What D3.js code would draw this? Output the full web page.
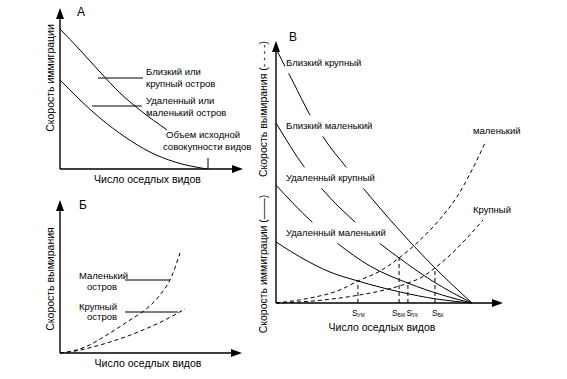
<!DOCTYPE html>
<html><head><meta charset="utf-8">
<script src="https://cdn.jsdelivr.net/npm/d3@7/dist/d3.min.js"></script>
<style>
body{margin:0;background:#fff}
svg text{font-family:"Liberation Sans",Arial,sans-serif;fill:#000}
</style>
</head><body>
<svg id="c" width="567" height="379"></svg>
<script>
// ---------- DATA (species number, rate) ----------
// Panel A: immigration curves
const aNearLarge = [[0,100],[13.6,85],[27.2,69.3],[40.8,54.3],[54.4,42.1],[72.8,27.9]];
const aFarSmall  = [[0,63.6],[13.6,49.3],[27.2,36.4],[44.2,22.9],[61.2,12.1],[78.2,5],[100,0]];
const aLabels = ["Близкий или","крупный остров","Удаленный или","маленький остров","Объем исходной","совокупности видов"];
// Panel B (Б): extinction curves
const bSmall = [[0,0],[10,2],[20,6],[40,20],[56,33],[68,43],[80,58],[88,73],[96,100]];
const bLarge = [[0,0],[10,1.5],[32,8],[66.4,23],[84,33],[100,44]];
const bLabels = ["Маленький","остров","Крупный","остров"];
// Panel C (В): immigration (solid) and extinction (dashed)
const cNearLarge = [[0,97],[8.7,84.4],[17.3,71.8],[24,63.4],[36.2,51.5],[44.4,43.9],[63.3,27.5],[81.1,13.4],[100,0]];
const cNearSmall = [[0,68.7],[14.8,51.5],[24,43.1],[40.3,30.9],[52,23.3],[62.8,17.2],[80,8.3],[100,0]];
const cFarLarge  = [[0,45],[18.4,30.9],[31,23],[48,14.1],[67.3,7.6],[85,3],[100,0]];
const cFarSmall  = [[0,23.3],[12.2,17.6],[27.6,11.8],[41.8,8.4],[63.3,4.2],[82,1.5],[100,0]];
const cExtSmall  = [[0,0],[17.3,1.9],[32.7,5.0],[41.8,8.4],[53.1,12.2],[62.8,17.2],[73.5,24],[83.7,32.1],[92.3,40.5],[100,50.8],[107.1,61.8]];
const cExtLarge  = [[0,0],[22.4,1.0],[42.9,3.1],[55.6,5.0],[67.3,7.6],[74.5,9.9],[81.1,13.4],[88.8,18.3],[97.4,24.8],[105.6,31.7]];
const cEquilNames = ["УМ","БМ","УК","БК"];
const cEquilX = [41.8,62.8,67.3,81.1];
const cEquilY = [8.4,17.2,7.6,13.4];
const cCurveLabels = ["Близкий крупный","Близкий маленький","Удаленный крупный","Удаленный маленький"];
const cExtLabels = ["маленький","Крупный"];

// ---------- DRAWING ----------
const svg = d3.select("#c");
svg.append("rect").attr("width",567).attr("height",379).attr("fill","#fff");

function axes(g, x, y, xMax, yMax){
  const x0=x(0), y0=y(0), xt=x(xMax), yt=y(yMax);
  g.append("line").attr("x1",x0).attr("y1",y0).attr("x2",xt-6).attr("y2",y0).attr("stroke","#000").attr("stroke-width",1.4);
  g.append("line").attr("x1",x0).attr("y1",y0).attr("x2",x0).attr("y2",yt+6).attr("stroke","#000").attr("stroke-width",1.4);
  g.append("path").attr("d",`M${xt},${y0}L${xt-11},${y0-4}L${xt-11},${y0+4}Z`).attr("fill","#000");
  g.append("path").attr("d",`M${x0},${yt}L${x0-4},${yt+11}L${x0+4},${yt+11}Z`).attr("fill","#000");
}
function curve(g, x, y, data, dashed){
  const line = d3.line().x(d=>x(d[0])).y(d=>y(d[1])).curve(d3.curveMonotoneX);
  const p = g.append("path").attr("d", line(data)).attr("fill","none").attr("stroke","#000").attr("stroke-width",1);
  if(dashed) p.attr("stroke-dasharray","4,3");
  return p;
}
function txt(g, x, y, s, size, anchor, rot){
  const t = g.append("text").attr("x",x).attr("y",y).attr("dy","0.35em").attr("font-size",size)
    .attr("text-anchor",anchor||"start").text(s);
  if(rot) t.attr("transform",`rotate(-90,${x},${y})`);
  return t;
}
function seg(g,x1,y1,x2,y2,dash){
  const l=g.append("line").attr("x1",x1).attr("y1",y1).attr("x2",x2).attr("y2",y2).attr("stroke","#000").attr("stroke-width",1);
  if(dash) l.attr("stroke-dasharray","4,3");
  return l;
}

// Panel A
{
  const g = svg.append("g");
  const x = d3.scaleLinear([0,100],[60,207]);
  const y = d3.scaleLinear([0,100],[169,29]);
  axes(g,x,y,124.5,115);
  curve(g,x,y,aNearLarge);
  curve(g,x,y,aFarSmall);
  txt(g,77,12,"А",12);
  txt(g,50,y(65),"Скорость иммиграции",10.5,"middle",true);
  txt(g,(x(0)+x(124.5))/2-4,179,"Число оседлых видов",10.5,"middle");
  seg(g,98,78,143,78);
  seg(g,92,106,142,106);
  txt(g,146,72,aLabels[0],9.5); txt(g,146,84,aLabels[1],9.5);
  txt(g,146,101,aLabels[2],9.5); txt(g,146,113,aLabels[3],9.5);
  txt(g,166,135,aLabels[4],9.5); txt(g,163,147,aLabels[5],9.5);
  seg(g,x(100)+1,y(0),x(100)+1,y(0)-11);
}
// Panel Б
{
  const g = svg.append("g");
  const x = d3.scaleLinear([0,100],[60,185]);
  const y = d3.scaleLinear([0,100],[353,253]);
  axes(g,x,y,145.6,153);
  curve(g,x,y,bSmall,true);
  curve(g,x,y,bLarge,true);
  txt(g,79,205,"Б",12);
  txt(g,50,279,"Скорость вымирания",10.5,"middle",true);
  txt(g,148,363,"Число оседлых видов",10.5,"middle");
  seg(g,125,280,170,280);
  seg(g,125,312,178,312);
  txt(g,79,276,bLabels[0],9.5); txt(g,102,287,bLabels[1],9.5,"middle");
  txt(g,79,307,bLabels[2],9.5); txt(g,102,317,bLabels[3],9.5,"middle");
}
// Panel В
{
  const g = svg.append("g");
  const x = d3.scaleLinear([0,100],[276,472]);
  const y = d3.scaleLinear([0,100],[303,41]);
  curve(g,x,y,cNearLarge);
  curve(g,x,y,cNearSmall);
  curve(g,x,y,cFarLarge);
  curve(g,x,y,cFarSmall);
  curve(g,x,y,cExtSmall,true);
  curve(g,x,y,cExtLarge,true);
  const labOff = [-6,-7,-1.5,-3];
  cEquilX.forEach((v,i)=>{
    seg(g,x(v),y(0),x(v),y(cEquilY[i]),true);
    const t = g.append("text").attr("x",x(v)+labOff[i]).attr("y",316).attr("font-size",8.5);
    t.append("tspan").text("S");
    t.append("tspan").attr("font-size",4.8).attr("dy",1).text(cEquilNames[i]);
  });
  axes(g,x,y,115.8,100);
  // curve labels with white masks
  const labY = [63,126,178,233];
  labY.forEach((ly,i)=>{
    const t = txt(g,286,ly,cCurveLabels[i],9.5);
    const bb = t.node().getBBox();
    g.insert("rect", function(){return t.node();}).attr("x",bb.x-1).attr("y",bb.y-5).attr("width",bb.width+2).attr("height",bb.height+10).attr("fill","#fff");
  });
  txt(g,473,131,cExtLabels[0],9.5);
  txt(g,473,210,cExtLabels[1],9.5);
  txt(g,289,37,"В",12);
  txt(g,263,109,"Скорость вымирания (- - - -)",10.5,"middle",true);
  txt(g,263,264,"Скорость иммиграции (——)",10.5,"middle",true);
  txt(g,382,327,"Число оседлых видов",10.5,"middle");
}
</script>
</body></html>
